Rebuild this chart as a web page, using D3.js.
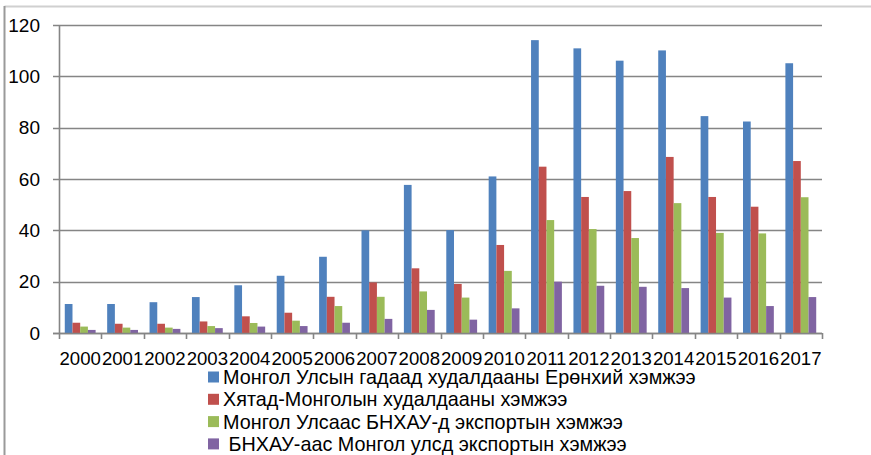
<!DOCTYPE html>
<html>
<head>
<meta charset="utf-8">
<script src="https://cdn.jsdelivr.net/npm/d3@7"></script>
<style>
  body { margin: 0; background: #fff; }
  svg text { font-family: "Liberation Sans", Arial, sans-serif; fill: #000; }
</style>
</head>
<body>
<div id="chart"></div>
<script>
var years = ['2000','2001','2002','2003','2004','2005','2006','2007','2008','2009',
             '2010','2011','2012','2013','2014','2015','2016','2017'];
var seriesNames = ['Монгол Улсын гадаад худалдааны Ерөнхий хэмжээ',
                   'Хятад-Монголын худалдааны хэмжээ',
                   'Монгол Улсаас БНХАУ-д экспортын хэмжээ',
                   ' БНХАУ-аас Монгол улсд экспортын хэмжээ'];
var totalTrade  = [11.3,11.3,12.0,14.0,18.6,22.3,29.7,40.0,57.7,40.1,61.0,114.1,110.9,106.1,110.1,84.5,82.4,105.1];
var chinaTrade  = [4.0,3.6,3.6,4.5,6.5,7.9,14.1,19.7,25.2,19.1,34.3,64.8,53.0,55.3,68.6,53.0,49.2,67.0];
var exportToCn  = [2.5,2.1,2.1,2.7,3.9,4.8,10.5,14.1,16.2,13.8,24.2,44.0,40.5,37.0,50.6,39.0,38.8,52.9];
var importFromCn = [1.2,1.2,1.6,1.9,2.5,2.7,4.0,5.5,9.0,5.2,9.6,20.0,18.4,18.0,17.5,13.8,10.5,14.0];
var yTicks = [0,20,40,60,80,100,120];
var colors = ['#4F81BD','#C0504D','#9BBB59','#8064A2'];

function drawChart(){
  var series = [totalTrade, chinaTrade, exportToCn, importFromCn];

  var width = 871, height = 455;
  var pLeft = 59, pRight = 822, pTop = 25, pBottom = 333;

  var svg = d3.select('#chart').append('svg')
      .attr('width', width)
      .attr('height', height);

  // outer frame (top + left only visible)
  svg.append('line').attr('x1', 4.5).attr('x2', width).attr('y1', 6.5).attr('y2', 6.5)
      .attr('stroke', '#d0d0d0').attr('stroke-width', 2);
  svg.append('line').attr('x1', 4.5).attr('x2', 4.5).attr('y1', 6).attr('y2', height)
      .attr('stroke', '#9a9a9a').attr('stroke-width', 2);

  var x = d3.scaleBand().domain(years).range([pLeft, pRight]);
  var x1 = d3.scaleBand().domain(d3.range(4)).range([0, x.bandwidth()])
      .paddingInner(0).paddingOuter(0.75);
  var y = d3.scaleLinear().domain([0, 120]).range([pBottom, pTop]);

  // gridlines
  svg.append('g').selectAll('line')
    .data(yTicks)
    .enter().append('line')
      .attr('x1', pLeft - 6).attr('x2', pRight)
      .attr('y1', function(d){ return Math.round(y(d)) + 0.5; })
      .attr('y2', function(d){ return Math.round(y(d)) + 0.5; })
      .attr('stroke', '#858585')
      .attr('stroke-width', 1.6);

  // y labels
  svg.append('g').selectAll('text')
    .data(yTicks)
    .enter().append('text')
      .attr('x', 40)
      .attr('y', function(d){ return y(d); })
      .attr('dy', '0.35em')
      .style('text-anchor', 'end')
      .style('font-size', '19px')
      .text(function(d){ return d; });

  // bars
  series.forEach(function(vals, j){
    svg.append('g').selectAll('rect')
      .data(vals)
      .enter().append('rect')
        .attr('x', function(d, i){ return x(years[i]) + x1(j); })
        .attr('y', function(d){ return y(d); })
        .attr('width', x1.bandwidth())
        .attr('height', function(d){ return y(0) - y(d); })
        .attr('fill', colors[j]);
  });

  // axis lines
  svg.append('line').attr('x1', pLeft + 0.5).attr('x2', pLeft + 0.5).attr('y1', pTop).attr('y2', pBottom)
      .attr('stroke', '#858585').attr('stroke-width', 1.6);
  svg.append('line').attr('x1', pLeft - 6).attr('x2', pRight).attr('y1', pBottom + 0.5).attr('y2', pBottom + 0.5)
      .attr('stroke', '#858585').attr('stroke-width', 1.6);

  // x ticks at category boundaries
  var bounds = years.map(function(d){ return x(d); }).concat([pRight]);
  svg.append('g').selectAll('line')
    .data(bounds)
    .enter().append('line')
      .attr('x1', function(d){ return Math.round(d) + 0.5; })
      .attr('x2', function(d){ return Math.round(d) + 0.5; })
      .attr('y1', pBottom).attr('y2', pBottom + 6)
      .attr('stroke', '#858585').attr('stroke-width', 1.6);

  // x labels
  svg.append('g').selectAll('text')
    .data(years)
    .enter().append('text')
      .attr('x', function(d){ return x(d) + x.bandwidth() / 2; })
      .attr('y', 365)
      .style('text-anchor', 'middle')
      .style('font-size', '18.6px')
      .text(function(d){ return d; });

  // legend
  var legend = svg.append('g').selectAll('g')
    .data(seriesNames)
    .enter().append('g')
      .attr('transform', function(d, i){ return 'translate(208,' + (377 + i * 22.3) + ')'; });

  legend.append('rect')
      .attr('x', 0).attr('y', -5.5)
      .attr('width', 11).attr('height', 11)
      .attr('fill', function(d, i){ return colors[i]; });

  legend.append('text')
      .attr('x', 15)
      .attr('dy', '0.35em')
      .style('font-size', '19.8px')
      .style('white-space', 'pre')
      .text(function(d){ return d; });
}

drawChart();
</script>
</body>
</html>
